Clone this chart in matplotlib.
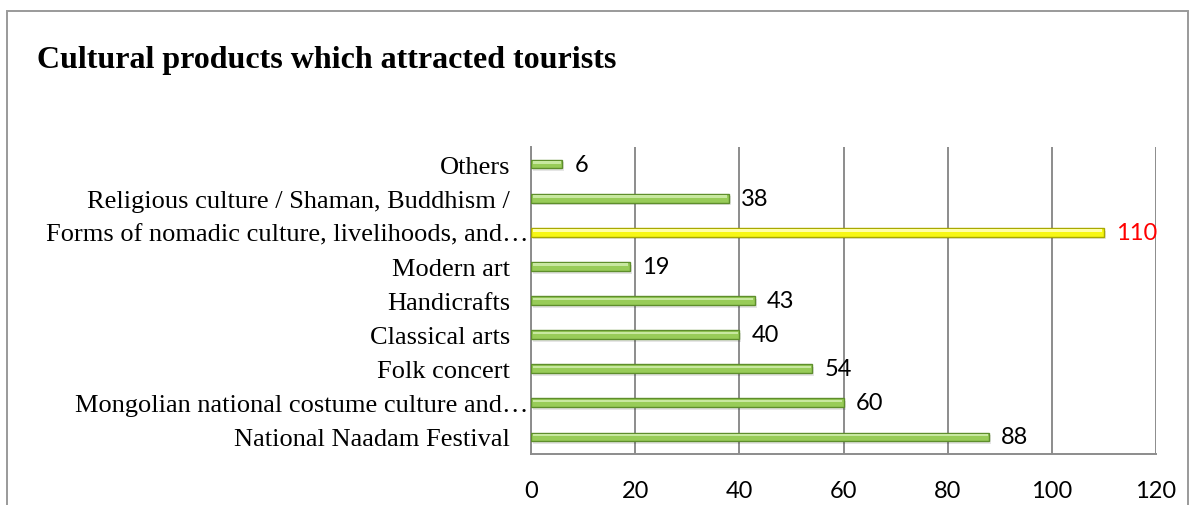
import matplotlib.pyplot as plt
from matplotlib.patches import Rectangle
from matplotlib.transforms import ScaledTranslation

# ── Data ─────────────────────────────────────────────────────────────────────
categories = [
    "National Naadam Festival",
    "Mongolian national costume culture and\u2026",
    "Folk concert",
    "Classical arts",
    "Handicrafts",
    "Modern art",
    "Forms of nomadic culture, livelihoods, and\u2026",
    "Religious culture / Shaman, Buddhism /",
    "Others",
]
values = [88, 60, 54, 40, 43, 19, 110, 38, 6]
highlight = "Forms of nomadic culture, livelihoods, and\u2026"
x_ticks = [0, 20, 40, 60, 80, 100, 120]

# ── Style ────────────────────────────────────────────────────────────────────
SERIF = ["Liberation Serif", "DejaVu Serif"]
SANS = ["Lato", "DejaVu Sans"]
C_BAR, C_BAR_EDGE = "#98CC58", "#5E8E2C"
C_HI, C_HI_EDGE = "#F7F714", "#A8A800"
C_GRID = "#8C8C8C"

fig = plt.figure(figsize=(11.92, 5.06), dpi=100)
ax = fig.add_axes([0.4455, 0.1008, 0.5243, 0.6067])

# outer chart frame (runs past the bottom edge)
fig.patches.append(Rectangle((0.006, -0.2), 0.9905, 1.176, transform=fig.transFigure,
                             fill=False, edgecolor="#9A9A9A", lw=1.4))

ypos = list(range(len(categories)))
for y, v, cat in zip(ypos, values, categories):
    hi = cat == highlight
    # soft drop shadow
    ax.barh(y - 0.08, v, height=0.26, left=0.4, color="#000000", alpha=0.10,
            lw=0, zorder=2)
    ax.barh(y, v, height=0.26, color=C_HI if hi else C_BAR,
            edgecolor=C_HI_EDGE if hi else C_BAR_EDGE, lw=1.0, zorder=3)
    # top highlight stripe
    ax.barh(y + 0.05, v - 0.6, height=0.07, left=0.3,
            color="#FFFFA8" if hi else "#C8E8A0", lw=0, zorder=4)
    ax.text(v, y, str(v), transform=ax.transData + ScaledTranslation(12 / 100, 0, fig.dpi_scale_trans),
            ha="left", va="center", fontsize=17, family=SANS,
            color="#FF0000" if hi else "black", zorder=5)

ax.set_xlim(0, 120)
ax.set_ylim(-0.5, len(categories) - 0.5)
ax.set_xticks(x_ticks)
ax.set_xticklabels([str(t) for t in x_ticks], family=SANS, fontsize=17)
ax.set_yticks(ypos)
ax.set_yticklabels(categories, family=SERIF, fontsize=19)
ax.tick_params(axis="x", length=0, pad=19)
ax.tick_params(axis="y", length=0, pad=15)

# ellipsised labels sit right against the axis
for lbl in ax.get_yticklabels():
    if lbl.get_text().endswith("\u2026"):
        lbl.set_transform(lbl.get_transform() + ScaledTranslation(13 / 72, 0, fig.dpi_scale_trans))

ax.grid(axis="x", color=C_GRID, lw=1.4, zorder=1)
ax.set_axisbelow(True)
for side in ("top", "right"):
    ax.spines[side].set_visible(False)
for side in ("left", "bottom"):
    ax.spines[side].set_color(C_GRID)
    ax.spines[side].set_linewidth(1.4)

fig.text(0.031, 0.866, "Cultural products which attracted tourists", family=SERIF,
         fontsize=23, fontweight="bold", ha="left", va="baseline")

fig.savefig("out.png", dpi=100)
